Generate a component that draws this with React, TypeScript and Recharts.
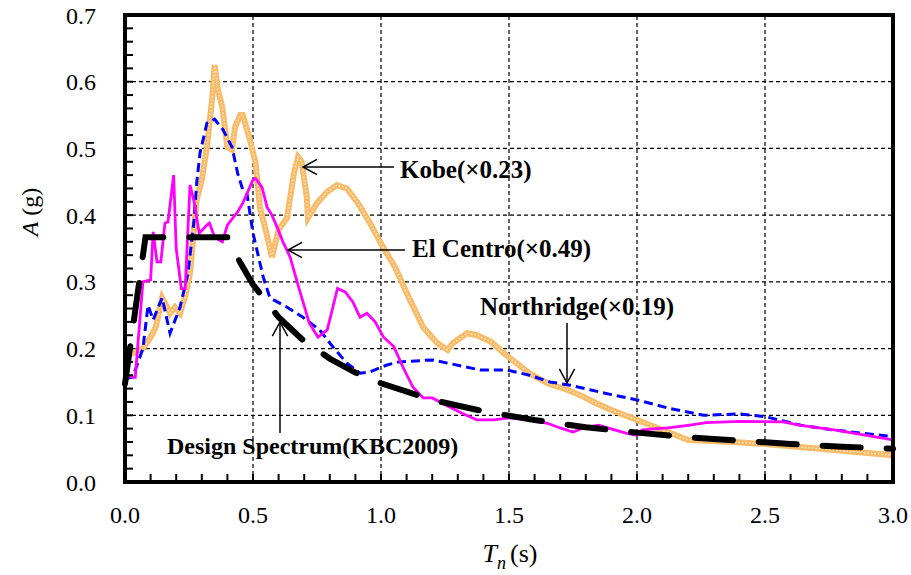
import React from "react";
import { LineChart, Line, XAxis, YAxis, ReferenceLine } from "recharts";

// period T (s) and spectral acceleration A (g)
const designT = [0, 0.08, 0.1, 0.2, 0.3, 0.4, 0.45, 0.5, 0.6, 0.7, 0.8, 0.9, 1.0, 1.2, 1.4, 1.6, 1.8, 2.0, 2.2, 2.4, 2.6, 2.8, 3.0];
const designA = [0.147, 0.367, 0.367, 0.367, 0.367, 0.367, 0.329, 0.296, 0.247, 0.211, 0.185, 0.164, 0.148, 0.123, 0.106, 0.093, 0.082, 0.074, 0.067, 0.062, 0.057, 0.053, 0.05];

const elCentroT = [0, 0.04, 0.07, 0.1, 0.11, 0.125, 0.14, 0.156, 0.168, 0.19, 0.2, 0.22, 0.235, 0.254, 0.27, 0.29, 0.32, 0.33, 0.35, 0.38, 0.4, 0.44, 0.46, 0.5, 0.51, 0.535, 0.555, 0.574, 0.594, 0.617, 0.645, 0.68, 0.72, 0.754, 0.79, 0.83, 0.86, 0.89, 0.918, 0.945, 0.977, 1.01, 1.05, 1.086, 1.125, 1.165, 1.2, 1.27, 1.316, 1.375, 1.44, 1.5, 1.58, 1.65, 1.7, 1.75, 1.79, 1.85, 1.96, 2.0, 2.02, 2.12, 2.2, 2.27, 2.4, 2.57, 2.64, 2.77, 3.0];
const elCentroA = [0.16, 0.157, 0.3, 0.303, 0.375, 0.33, 0.33, 0.388, 0.39, 0.46, 0.35, 0.29, 0.29, 0.445, 0.42, 0.373, 0.385, 0.388, 0.367, 0.36, 0.385, 0.405, 0.418, 0.453, 0.455, 0.442, 0.412, 0.4, 0.382, 0.36, 0.337, 0.29, 0.238, 0.217, 0.228, 0.29, 0.285, 0.27, 0.247, 0.253, 0.24, 0.217, 0.203, 0.172, 0.142, 0.126, 0.126, 0.112, 0.103, 0.093, 0.093, 0.096, 0.093, 0.088, 0.081, 0.075, 0.081, 0.085, 0.073, 0.07, 0.078, 0.081, 0.085, 0.089, 0.091, 0.09, 0.085, 0.078, 0.063];

const northridgeT = [0, 0.03, 0.07, 0.09, 0.11, 0.145, 0.176, 0.215, 0.246, 0.27, 0.28, 0.293, 0.32, 0.35, 0.383, 0.418, 0.44, 0.46, 0.476, 0.5, 0.54, 0.566, 0.633, 0.695, 0.76, 0.813, 0.867, 0.918, 0.957, 1.02, 1.07, 1.2, 1.3, 1.387, 1.49, 1.58, 1.66, 1.74, 1.82, 1.9, 2.0, 2.12, 2.26, 2.4, 2.5, 2.64, 2.77, 3.0];
const northridgeA = [0.155, 0.157, 0.2, 0.265, 0.243, 0.276, 0.223, 0.262, 0.313, 0.393, 0.448, 0.493, 0.538, 0.544, 0.528, 0.502, 0.463, 0.438, 0.433, 0.373, 0.307, 0.276, 0.262, 0.247, 0.228, 0.202, 0.178, 0.163, 0.165, 0.175, 0.18, 0.183, 0.175, 0.168, 0.168, 0.16, 0.15, 0.145, 0.138, 0.131, 0.123, 0.111, 0.1, 0.102, 0.098, 0.085, 0.078, 0.068];

const kobeT = [0, 0.03, 0.07, 0.1, 0.12, 0.145, 0.156, 0.176, 0.195, 0.215, 0.234, 0.254, 0.28, 0.3, 0.32, 0.34, 0.35, 0.363, 0.38, 0.4, 0.418, 0.43, 0.45, 0.46, 0.488, 0.51, 0.527, 0.547, 0.574, 0.6, 0.633, 0.66, 0.676, 0.69, 0.71, 0.715, 0.75, 0.79, 0.828, 0.867, 0.91, 0.957, 1.008, 1.055, 1.113, 1.165, 1.22, 1.26, 1.28, 1.336, 1.375, 1.43, 1.48, 1.53, 1.58, 1.65, 1.73, 1.79, 1.84, 1.9, 2.0, 2.12, 2.2, 2.375, 2.5, 2.77, 3.0];
const kobeA = [0.195, 0.193, 0.2, 0.217, 0.232, 0.276, 0.268, 0.253, 0.262, 0.253, 0.277, 0.313, 0.423, 0.453, 0.502, 0.573, 0.625, 0.588, 0.562, 0.502, 0.498, 0.532, 0.55, 0.55, 0.513, 0.478, 0.412, 0.382, 0.337, 0.378, 0.396, 0.463, 0.487, 0.48, 0.427, 0.396, 0.418, 0.435, 0.445, 0.44, 0.418, 0.388, 0.352, 0.322, 0.273, 0.232, 0.208, 0.198, 0.208, 0.223, 0.22, 0.21, 0.193, 0.178, 0.163, 0.148, 0.138, 0.128, 0.118, 0.108, 0.093, 0.075, 0.063, 0.06, 0.057, 0.048, 0.04];

// every 0.1 s on x (labelled every 0.5), every 0.02 g on y (labelled every 0.1)
const xTicks = Array.from({ length: 31 }, (_, i) => i / 10);
const yTicks = Array.from({ length: 36 }, (_, i) => i / 50);
const xGrid = [0.5, 1.0, 1.5, 2.0, 2.5];
const yGrid = [0.1, 0.2, 0.3, 0.4, 0.5, 0.6];

const zip = (t: number[], a: number[]) => t.map((v, i) => ({ t: v, a: a[i] }));
const designData = zip(designT, designA);
const elCentroData = zip(elCentroT, elCentroA);
const northridgeData = zip(northridgeT, northridgeA);
const kobeData = zip(kobeT, kobeA);

const SERIF = "'Liberation Serif', 'Times New Roman', serif";

// plot box in page pixels (must match the chart margins / axis sizes below)
const PLOT = { left: 125, right: 893, top: 15, bottom: 482 };
const X_MAX = 3;
const Y_MAX = 0.7;
const px = (t: number) => PLOT.left + (t / X_MAX) * (PLOT.right - PLOT.left);
const py = (a: number) => PLOT.bottom - (a / Y_MAX) * (PLOT.bottom - PLOT.top);

const isMajor = (v: number, step: number) => Math.abs(v / step - Math.round(v / step)) < 1e-6;
const xLabel = (v: number) => (isMajor(v, 0.5) ? v.toFixed(1) : "");
const yLabel = (v: number) => (isMajor(v, 0.1) ? v.toFixed(1) : "");

const Arrow = ({ x1, y1, x2, y2 }: { x1: number; y1: number; x2: number; y2: number }) => {
  // arrow tip at (x2, y2)
  const ang = Math.atan2(y2 - y1, x2 - x1);
  const len = 16;
  const spread = 0.5;
  const ax = x2 - len * Math.cos(ang - spread);
  const ay = y2 - len * Math.sin(ang - spread);
  const bx = x2 - len * Math.cos(ang + spread);
  const by = y2 - len * Math.sin(ang + spread);
  return (
    <g stroke="#000" strokeWidth={1.5} fill="none">
      <line x1={x1} y1={y1} x2={x2} y2={y2} />
      <polyline points={`${ax},${ay} ${x2},${y2} ${bx},${by}`} />
    </g>
  );
};

const Overlay = () => (
  <svg width={911} height={575} style={{ position: "absolute", left: 0, top: 0, pointerEvents: "none" }}>
    {/* inward tick marks and heavy frame */}
    <g stroke="#000" strokeWidth={2}>
      {xTicks.map((v) => (
        <line key={`xt${v}`} x1={px(v)} x2={px(v)} y1={PLOT.bottom} y2={PLOT.bottom - 8} />
      ))}
      {yTicks.map((v) => (
        <line key={`yt${v}`} x1={PLOT.left} x2={PLOT.left + 8} y1={py(v)} y2={py(v)} />
      ))}
    </g>
    <rect
      x={PLOT.left}
      y={PLOT.top}
      width={PLOT.right - PLOT.left}
      height={PLOT.bottom - PLOT.top}
      fill="none"
      stroke="#000"
      strokeWidth={4}
    />
    <g fontFamily={SERIF} fontWeight="bold" fontSize={25} fill="#000">
      <text x={400} y={178}>Kobe(×0.23)</text>
      <text x={412} y={257}>El Centro(×0.49)</text>
      <text x={480} y={315}>Northridge(×0.19)</text>
      <text x={167} y={454} fontSize={24}>Design Spectrum(KBC2009)</text>
    </g>
    <Arrow x1={394} y1={167} x2={303} y2={167} />
    <Arrow x1={405} y1={250} x2={288} y2={250} />
    <Arrow x1={567} y1={323} x2={567} y2={383} />
    <Arrow x1={280} y1={433} x2={280} y2={322} />
    <text transform="translate(38,212) rotate(-90)" textAnchor="middle" fontFamily={SERIF} fontSize={24} fill="#000">
      <tspan fontStyle="italic">A</tspan> (g)
    </text>
    <text x={510} y={562} textAnchor="middle" fontFamily={SERIF} fontSize={26} fill="#000">
      <tspan fontStyle="italic">T</tspan>
      <tspan fontStyle="italic" fontSize={18} dy={7}>n</tspan>
      <tspan dy={-7} dx={4}>(s)</tspan>
    </text>
  </svg>
);

const tickFont = { fontFamily: SERIF, fontSize: 24, fill: "#000" };

export default function App() {
  return (
    <div style={{ position: "absolute", left: 0, top: 0, width: 911, height: 575, background: "#fff" }}>
      <LineChart width={911} height={575} margin={{ top: 15, right: 18, bottom: 0, left: 0 }}>
        <XAxis
          dataKey="t"
          type="number"
          domain={[0, X_MAX]}
          ticks={xTicks}
          interval={0}
          height={93}
          axisLine={false}
          tickLine={false}
          tickSize={-9}
          tickMargin={33}
          tick={tickFont}
          tickFormatter={xLabel}
        />
        <YAxis
          dataKey="a"
          type="number"
          domain={[0, Y_MAX]}
          ticks={yTicks}
          interval={0}
          width={125}
          axisLine={false}
          tickLine={false}
          tickSize={-9}
          tickMargin={38}
          tick={tickFont}
          tickFormatter={yLabel}
        />
        {yGrid.map((v) => (
          <ReferenceLine key={`h${v}`} y={v} stroke="#000" strokeWidth={1.2} strokeDasharray="4 3" />
        ))}
        {xGrid.map((v) => (
          <ReferenceLine key={`v${v}`} x={v} stroke="#000" strokeWidth={1.2} strokeDasharray="4 3" />
        ))}
        <Line data={kobeData} dataKey="a" type="linear" stroke="#F9BB68" strokeWidth={6} dot={false} isAnimationActive={false} />
        <Line data={kobeData} dataKey="a" type="linear" stroke="#FFE6C4" strokeWidth={1.5} strokeDasharray="1.5 2" dot={false} isAnimationActive={false} />
        <Line data={northridgeData} dataKey="a" type="linear" stroke="#0000FF" strokeWidth={3} strokeDasharray="9 5" dot={false} isAnimationActive={false} />
        <Line data={elCentroData} dataKey="a" type="linear" stroke="#FF00FF" strokeWidth={2.8} dot={false} isAnimationActive={false} />
        <Line data={designData} dataKey="a" type="linear" stroke="#000" strokeWidth={6} strokeDasharray="38 26" strokeLinecap="round" dot={false} isAnimationActive={false} />
      </LineChart>
      <Overlay />
    </div>
  );
}
